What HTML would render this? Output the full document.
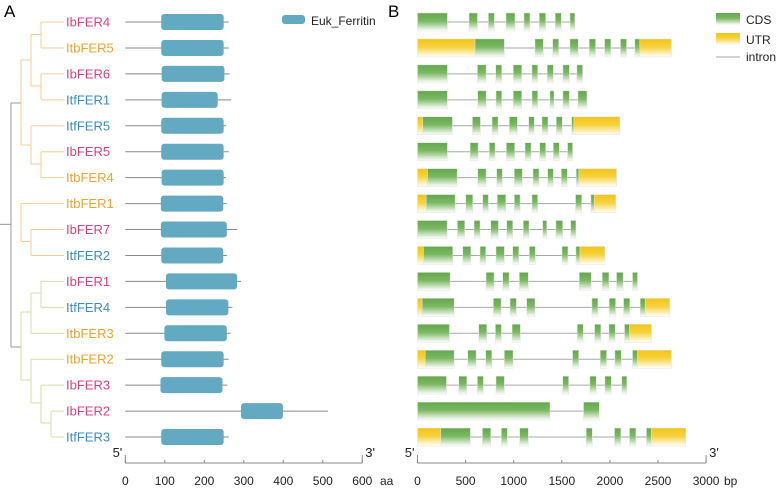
<!DOCTYPE html>
<html><head><meta charset="utf-8"><style>
body{margin:0;background:#fff;}
svg{display:block;font-family:"Liberation Sans",Arial,sans-serif;}
</style></head><body>
<svg id="c" width="778" height="490" viewBox="0 0 778 490">
<defs>
<linearGradient id="gG" x1="0" y1="0" x2="0" y2="1"><stop offset="0" stop-color="#63a84c"/><stop offset="0.45" stop-color="#7cb864"/><stop offset="1" stop-color="#ffffff"/></linearGradient>
<linearGradient id="gY" x1="0" y1="0" x2="0" y2="1"><stop offset="0" stop-color="#f2c416"/><stop offset="0.45" stop-color="#f6d23e"/><stop offset="1" stop-color="#ffffff"/></linearGradient>
</defs>
<g id="tree"></g>
<g id="pa"></g>
<g id="pb"></g>
<text x="4" y="17" font-size="17">A</text>
<text x="388" y="17" font-size="17">B</text>
<rect x="282" y="15" width="23" height="9" rx="3" fill="#62a9c1"/>
<text x="311" y="25" font-size="12" fill="#222">Euk_Ferritin</text>
<rect x="716" y="13" width="24" height="12" fill="url(#gG)"/>
<text x="746" y="24" font-size="12" fill="#222">CDS</text>
<rect x="716" y="33" width="24" height="12" fill="url(#gY)"/>
<text x="746" y="44" font-size="12" fill="#222">UTR</text>
<line x1="716" y1="57" x2="740" y2="57" stroke="#aaa" stroke-width="1"/>
<text x="746" y="61" font-size="12" fill="#222">intron</text>
</svg>
<script>
const genes=["IbFER4","ItbFER5","IbFER6","ItfFER1","ItfFER5","IbFER5","ItbFER4","ItbFER1","IbFER7","ItfFER2","IbFER1","ItfFER4","ItbFER3","ItbFER2","IbFER3","IbFER2","ItfFER3"];
const species=["b","tb","b","tf","tf","b","tb","tb","b","tf","b","tf","tb","tb","b","b","tf"];
const protLen=[262,262,264,268,255,262,255,257,283,257,293,271,267,262,258,513,262];
const domStart=[91,91,92,92,91,91,92,90,90,91,103,103,99,91,89,293,91];
const domEnd=[249,249,251,234,249,249,249,248,257,248,283,261,257,249,246,399,249];
const aaTicks=[0,100,200,300,400,500,600];
const bpTicks=[0,500,1000,1500,2000,2500,3000];
// exons: [start,end,type] type C=CDS U=UTR
const exons=[
[[0,311,"C"],[536,623,"C"],[737,799,"C"],[920,1013,"C"],[1107,1169,"C"],[1266,1332,"C"],[1432,1495,"C"],[1585,1636,"C"]],
[[0,598,"U"],[598,903,"C"],[1221,1308,"C"],[1405,1467,"C"],[1585,1671,"C"],[1785,1851,"C"],[1945,2010,"C"],[2110,2173,"C"],[2259,2311,"C"],[2311,2640,"U"]],
[[0,311,"C"],[623,713,"C"],[813,875,"C"],[996,1083,"C"],[1190,1249,"C"],[1349,1412,"C"],[1512,1578,"C"],[1657,1716,"C"]],
[[0,311,"C"],[626,713,"C"],[816,875,"C"],[996,1083,"C"],[1190,1249,"C"],[1377,1419,"C"],[1512,1578,"C"],[1668,1761,"C"]],
[[0,55,"U"],[55,363,"C"],[571,654,"C"],[775,837,"C"],[955,1038,"C"],[1156,1214,"C"],[1294,1356,"C"],[1443,1505,"C"],[1602,1626,"C"],[1626,2104,"U"]],
[[0,311,"C"],[547,630,"C"],[747,806,"C"],[924,1010,"C"],[1118,1180,"C"],[1270,1332,"C"],[1412,1474,"C"],[1560,1612,"C"]],
[[0,104,"U"],[104,412,"C"],[626,713,"C"],[823,882,"C"],[1007,1090,"C"],[1201,1263,"C"],[1353,1412,"C"],[1495,1557,"C"],[1650,1678,"C"],[1678,2069,"U"]],
[[0,90,"U"],[90,391,"C"],[502,574,"C"],[678,737,"C"],[830,917,"C"],[1007,1066,"C"],[1190,1249,"C"],[1643,1706,"C"],[1803,1837,"C"],[1837,2062,"U"]],
[[0,308,"C"],[415,491,"C"],[588,650,"C"],[761,841,"C"],[927,990,"C"],[1100,1159,"C"],[1301,1343,"C"],[1439,1509,"C"],[1592,1647,"C"]],
[[0,62,"U"],[62,367,"C"],[471,554,"C"],[650,709,"C"],[816,903,"C"],[990,1052,"C"],[1163,1225,"C"],[1502,1564,"C"],[1647,1689,"C"],[1689,1948,"U"]],
[[0,339,"C"],[713,796,"C"],[886,952,"C"],[1059,1152,"C"],[1682,1806,"C"],[1920,1990,"C"],[2069,2138,"C"],[2235,2287,"C"]],
[[0,48,"U"],[48,381,"C"],[789,869,"C"],[962,1028,"C"],[1135,1221,"C"],[1813,1875,"C"],[1993,2059,"C"],[2142,2207,"C"],[2315,2367,"C"],[2367,2623,"U"]],
[[0,332,"C"],[637,720,"C"],[810,872,"C"],[983,1069,"C"],[1661,1723,"C"],[1841,1906,"C"],[1990,2055,"C"],[2152,2204,"C"],[2204,2432,"U"]],
[[0,80,"U"],[80,381,"C"],[522,609,"C"],[709,772,"C"],[903,993,"C"],[1612,1675,"C"],[1900,1965,"C"],[2052,2118,"C"],[2235,2287,"C"],[2287,2640,"U"]],
[[0,301,"C"],[429,512,"C"],[623,685,"C"],[816,903,"C"],[1509,1571,"C"],[1792,1858,"C"],[1948,2014,"C"],[2124,2176,"C"]],
[[0,1377,"C"],[1726,1889,"C"]],
[[0,242,"U"],[242,550,"C"],[675,761,"C"],[872,934,"C"],[1062,1152,"C"],[1754,1817,"C"],[2048,2114,"C"],[2204,2270,"C"],[2380,2432,"C"],[2432,2789,"U"]]
];
const NS="http://www.w3.org/2000/svg";
function mk(tag,attrs,parent,txt){const e=document.createElementNS(NS,tag);for(const k in attrs)e.setAttribute(k,attrs[k]);if(txt!==undefined)e.textContent=txt;parent.appendChild(e);return e;}
const rowY=i=>22+i*25.94;
const xA=v=>125.3+v*0.395;
const xB=v=>417.5+v*0.0962;
const colors={b:"#e0407c",tb:"#eea232",tf:"#3c8cc6"};
const pa=document.getElementById('pa'),pb=document.getElementById('pb'),tree=document.getElementById('tree');
genes.forEach((g,i)=>{
  const y=rowY(i);
  const t=mk('text',{x:66,y:y+4.5,'font-size':13,fill:colors[species[i]]},tree,g);
  
  
  const l=mk('line',{x1:xA(0),x2:xA(protLen[i]),y1:y,y2:y,stroke:'#888','stroke-width':1},pa);
  
  
  const r=mk('rect',{x:xA(domStart[i]),y:y-8,width:xA(domEnd[i])-xA(domStart[i]),height:16,rx:3,fill:'#62a9c1'},pa);
  
  
  const ex=exons[i];
  const last=ex[ex.length-1][1];
  const il=mk('line',{x1:xB(0),x2:xB(last),y1:y,y2:y,stroke:'#aaa','stroke-width':1},pb);
  
  
  ex.forEach((e,j)=>{
    const b=mk('rect',{x:xB(e[0]),y:y-9,width:Math.max(1,xB(e[1])-xB(e[0])),height:18,fill:e[2]=="C"?'url(#gG)':'url(#gY)',stroke:'#e4e4e4','stroke-width':0.5},pb);
    
    
  });
});
// tree
const tc={o:"#f5cd92",y:"#d9dca6",g:"#999"};
const segs=[
[0,rowY(7.8),11,rowY(7.8),'g'],[11,103,11,347,'g'],[11,103,21,103,'g'],[11,347,21,347,'g'],
[21,60,21,145,'o'],[21,60,31,60,'o'],[21,145,31,145,'o'],
[31,34.5,31,86,'o'],[31,34.5,41,34.5,'o'],[31,86,41,86,'o'],
[41,rowY(0),41,rowY(1),'o'],[41,rowY(2),41,rowY(3),'o'],
[31,rowY(4),31,164,'o'],[31,164,41,164,'o'],[41,rowY(5),41,rowY(6),'o'],
[21,rowY(7),21,241.5,'o'],[21,241.5,31,241.5,'o'],[31,rowY(8),31,rowY(9),'o'],
[21,312,21,380,'y'],[21,312,31,312,'y'],[21,380,31,380,'y'],
[31,293,31,rowY(12),'y'],[31,293,41,293,'y'],[41,rowY(10),41,rowY(11),'y'],
[31,rowY(13),31,403,'y'],[31,403,41,403,'y'],[41,rowY(14),41,423,'y'],[41,423,51,423,'y'],[51,rowY(15),51,rowY(16),'y']
];
segs.forEach(s=>mk('line',{x1:s[0],y1:s[1],x2:s[2],y2:s[3],stroke:tc[s[4]],'stroke-width':1},tree));
const leafX=[41,41,41,41,31,41,41,21,31,31,41,41,31,31,41,51,51];
const leafC=['o','o','o','o','o','o','o','o','o','o','y','y','y','y','y','y','y'];
genes.forEach((g,i)=>mk('line',{x1:leafX[i],y1:rowY(i),x2:64,y2:rowY(i),stroke:tc[leafC[i]],'stroke-width':1},tree));
// axes
function axis(par,x0,x1,ticks,fx,unit,ux,nm){
  const ay=463;
  const a=mk('line',{x1:x0,x2:x1,y1:ay,y2:ay,stroke:'#888','stroke-width':1},par);
  
  
  mk('line',{x1:x0,x2:x0,y1:ay-8,y2:ay,stroke:'#888'},par);
  mk('line',{x1:x1,x2:x1,y1:ay-8,y2:ay,stroke:'#888'},par);
  ticks.forEach(t=>{
    mk('line',{x1:fx(t),x2:fx(t),y1:ay,y2:ay-3,stroke:'#888'},par);
    const tl=mk('text',{x:fx(t),y:485,'font-size':12,'text-anchor':'middle',fill:'#222'},par,String(t));
    
    
  });
  mk('text',{x:x0-3,y:457,'font-size':13,'text-anchor':'end',fill:'#222'},par,"5'");
  mk('text',{x:x1+3,y:457,'font-size':13,fill:'#222'},par,"3'");
  const u=mk('text',{x:ux,y:485,'font-size':12,fill:'#222'},par,unit);
  
  
}
axis(pa,xA(0),xA(600),aaTicks,xA,'aa',380,'aa');
axis(pb,xB(0),xB(3000),bpTicks,xB,'bp',724,'bp');
</script>
</body></html>
